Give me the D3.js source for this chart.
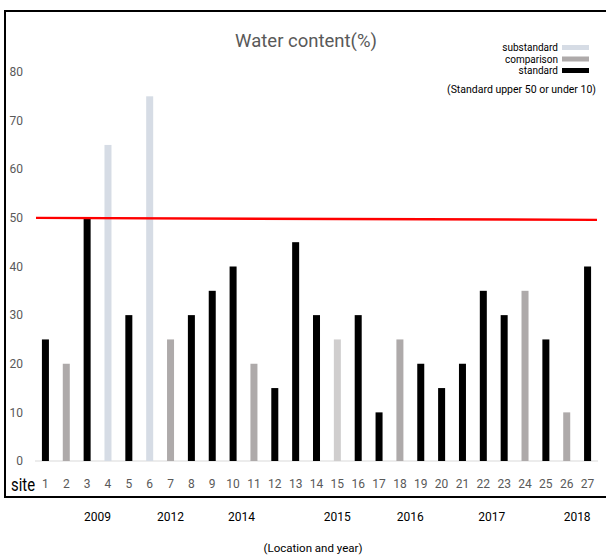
<!DOCTYPE html>
<html>
<head>
<meta charset="utf-8">
<script src="https://cdn.jsdelivr.net/npm/d3@7"></script>
<style>
  html, body { margin: 0; padding: 0; background: #fff; }
  svg { display: block; font-family: Roboto, "Noto Sans", sans-serif; }
</style>
</head>
<body>
<svg id="chart" width="606" height="557"></svg>
<script>
// Sites, water content (%) and grading of each sample
const sites = d3.range(1, 28).map(String);
const waterContent = [25, 20, 50, 65, 30, 75, 25, 30, 35, 40, 20, 15, 45, 30, 25, 30, 10, 25, 20, 15, 20, 35, 30, 35, 25, 10, 40];
const grade = ["standard", "comparison", "standard", "substandard", "standard", "substandard", "comparison",
  "standard", "standard", "standard", "comparison", "standard", "standard", "standard", "light",
  "standard", "standard", "comparison", "standard", "standard", "standard", "standard", "standard",
  "comparison", "standard", "comparison", "standard"];
const yTicks = [0, 10, 20, 30, 40, 50, 60, 70, 80];
const legendItems = ["substandard", "comparison", "standard"];
const yearLabels = ["2009", "2012", "2014", "2015", "2016", "2017", "2018"];
const yearAt = [3.5, 7, 10.4, 15, 18.5, 22.4, 26.5];   // in site units
const upperLimit = 50;

const gradeColor = {
  standard: "#000000",
  comparison: "#aeaaaa",
  substandard: "#d6dce5",
  light: "#d0cece"
};

const svg = d3.select("#chart");

// Outer frame (runs off the right edge)
svg.append("rect")
  .attr("x", 5).attr("y", 11).attr("width", 610).attr("height", 486)
  .attr("fill", "none").attr("stroke", "#000").attr("stroke-width", 2);

const x = d3.scaleBand().domain(sites).range([35, 598]).paddingInner(0.664).paddingOuter(0.332);
const y = d3.scaleLinear().domain([0, 80]).range([461, 72]);

// Title
svg.append("text")
  .attr("x", 306).attr("y", 47).attr("text-anchor", "middle")
  .attr("font-size", 18.5).attr("fill", "#595959")
  .text("Water content(%)");

// Y tick labels
svg.append("g").selectAll("text").data(yTicks).join("text")
  .attr("x", 23).attr("y", d => y(d)).attr("dy", "0.35em")
  .attr("text-anchor", "end").attr("font-size", 12).attr("fill", "#595959")
  .text(d => d);

// Baseline
svg.append("line")
  .attr("x1", 35).attr("x2", 598).attr("y1", y(0)).attr("y2", y(0))
  .attr("stroke", "#d9d9d9").attr("stroke-width", 1);

// Bars
svg.append("g").selectAll("rect").data(sites).join("rect")
  .attr("x", d => x(d)).attr("width", x.bandwidth())
  .attr("y", (d, i) => y(waterContent[i]))
  .attr("height", (d, i) => y(0) - y(waterContent[i]))
  .attr("fill", (d, i) => gradeColor[grade[i]]);

// Upper limit line
svg.append("line")
  .attr("x1", 36).attr("x2", 597).attr("y1", y(upperLimit)).attr("y2", y(upperLimit) + 2)
  .attr("stroke", "#ff0000").attr("stroke-width", 2.5);

// X axis labels
svg.append("text").attr("x", 11).attr("y", 491)
  .attr("font-size", 19).attr("fill", "#000")
  .attr("textLength", 24).attr("lengthAdjust", "spacingAndGlyphs")
  .text("site");
svg.append("g").selectAll("text").data(sites).join("text")
  .attr("x", d => x(d) + x.bandwidth() / 2).attr("y", 488)
  .attr("text-anchor", "middle").attr("font-size", 12).attr("fill", "#595959")
  .text(d => d);

// Years below the frame
const siteX = s => x("1") + x.bandwidth() / 2 + (s - 1) * x.step();
svg.append("g").selectAll("text").data(yearLabels).join("text")
  .attr("x", (d, i) => siteX(yearAt[i])).attr("y", 521)
  .attr("text-anchor", "middle").attr("font-size", 12).attr("fill", "#000")
  .text(d => d);

svg.append("text").attr("x", 313).attr("y", 552).attr("text-anchor", "middle")
  .attr("font-size", 11.5).attr("fill", "#000").text("(Location and year)");

// Legend
const lg = svg.append("g");
legendItems.forEach((k, i) => {
  const cy = 47.5 + i * 11.5;
  lg.append("text").attr("x", 558).attr("y", cy).attr("dy", "0.35em")
    .attr("text-anchor", "end").attr("font-size", 10).attr("fill", "#000").text(k);
  lg.append("rect").attr("x", 562).attr("y", cy - 2.5).attr("width", 27).attr("height", 5)
    .attr("fill", gradeColor[k]);
});
svg.append("text").attr("x", 596).attr("y", 93).attr("text-anchor", "end")
  .attr("font-size", 10.5).attr("fill", "#000").text("(Standard upper 50  or under 10)");
</script>
</body>
</html>
